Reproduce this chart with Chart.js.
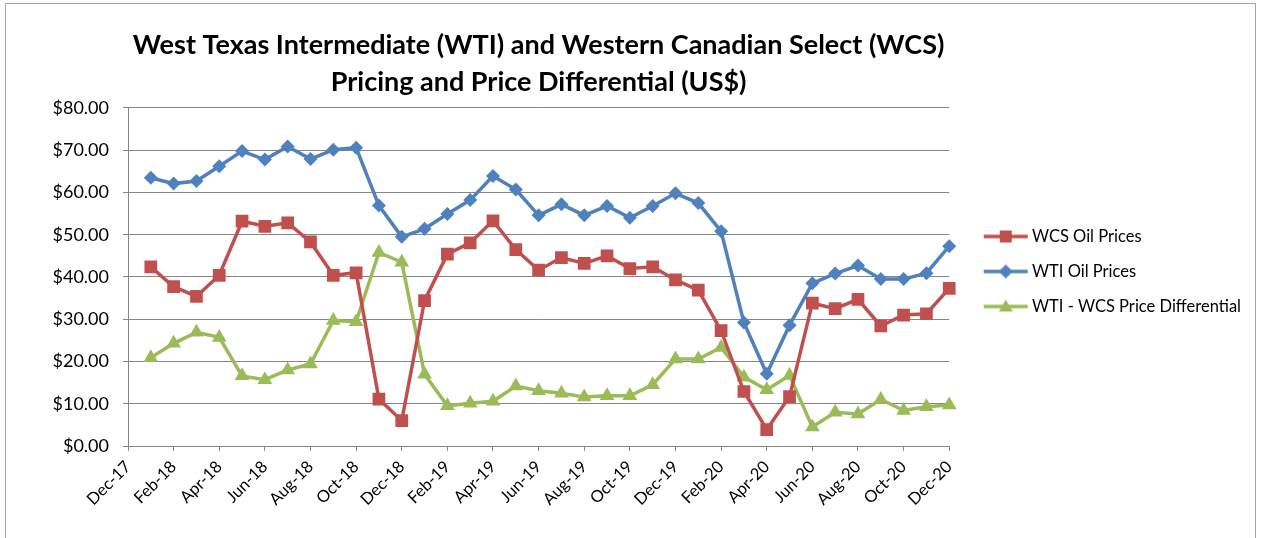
<!DOCTYPE html>
<html>
<head>
<meta charset="utf-8">
<script src="https://cdn.jsdelivr.net/npm/chart.js@4/dist/chart.umd.min.js"></script>
<style>
  html, body { margin: 0; padding: 0; background: #fff; }
  #wrap { position: relative; width: 1266px; height: 538px; overflow: hidden; }
  #frame { position: absolute; left: 5px; top: 3px; width: 1251px; height: 560px; border: 1px solid #a6a6a6; box-sizing: border-box; }
  #c { position: absolute; left: 0; top: 0; }
</style>
</head>
<body>
<div id="wrap">
  <div id="frame"></div>
  <canvas id="c" width="1266" height="538"></canvas>
</div>
<script>
// Axis categories (Dec-17 is the empty axis start)
const months = ['Dec-17',
  'Jan-18','Feb-18','Mar-18','Apr-18','May-18','Jun-18','Jul-18','Aug-18','Sep-18','Oct-18','Nov-18','Dec-18',
  'Jan-19','Feb-19','Mar-19','Apr-19','May-19','Jun-19','Jul-19','Aug-19','Sep-19','Oct-19','Nov-19','Dec-19',
  'Jan-20','Feb-20','Mar-20','Apr-20','May-20','Jun-20','Jul-20','Aug-20','Sep-20','Oct-20','Nov-20','Dec-20'];

// Series values, Jan-18 .. Dec-20
const wcsPrices = [42.4, 37.7, 35.4, 40.4, 53.2, 52.0, 52.8, 48.3, 40.4, 41.0, 11.1, 6.0,
  34.4, 45.4, 48.1, 53.3, 46.5, 41.6, 44.6, 43.2, 45.0, 42.0, 42.4, 39.3,
  36.9, 27.3, 12.9, 3.9, 11.7, 33.8, 32.5, 34.7, 28.4, 31.0, 31.3, 37.3];
const wtiPrices = [63.5, 62.1, 62.7, 66.2, 69.8, 67.8, 70.9, 67.9, 70.1, 70.6, 56.9, 49.5,
  51.4, 54.9, 58.2, 63.9, 60.7, 54.6, 57.2, 54.6, 56.8, 54.0, 56.8, 59.8,
  57.5, 50.8, 29.2, 17.1, 28.6, 38.5, 40.8, 42.7, 39.5, 39.5, 40.9, 47.3];
const priceDiff = [20.9, 24.3, 26.9, 25.7, 16.6, 15.7, 18.0, 19.4, 29.7, 29.4, 45.8, 43.5,
  17.0, 9.5, 10.1, 10.6, 14.2, 13.1, 12.5, 11.6, 11.9, 11.9, 14.5, 20.6,
  20.6, 23.3, 16.3, 13.3, 16.7, 4.5, 8.0, 7.6, 11.0, 8.4, 9.3, 9.7];

const seriesNames = ['WCS Oil Prices', 'WTI Oil Prices', 'WTI - WCS Price Differential'];
const yTicks = [0, 10, 20, 30, 40, 50, 60, 70, 80];

const RED = '#C0504D', BLUE = '#4F81BD', GREEN = '#9BBB59';

function legendImage(color, style) {
  const cv = document.createElement('canvas');
  cv.width = 48; cv.height = 18;
  const g = cv.getContext('2d');
  g.strokeStyle = color; g.lineWidth = 3.5; g.lineCap = 'butt';
  g.beginPath(); g.moveTo(2, 9); g.lineTo(46, 9); g.stroke();
  g.fillStyle = color;
  g.beginPath();
  if (style === 'rect') { g.rect(24 - 6, 9 - 6, 12, 12); }
  else if (style === 'rectRot') { g.moveTo(24, 2); g.lineTo(31, 9); g.lineTo(24, 16); g.lineTo(17, 9); g.closePath(); }
  else { g.moveTo(24, 2); g.lineTo(31, 14); g.lineTo(17, 14); g.closePath(); }
  g.fill();
  return cv;
}

const pad = arr => [null].concat(arr);
const styles = ['rect', 'rectRot', 'triangle'];
const colors = [RED, BLUE, GREEN];
const values = [wcsPrices, wtiPrices, priceDiff];
const radii = [9, 7, 8.5];

const datasets = seriesNames.map((name, i) => ({
  label: name,
  data: pad(values[i]),
  borderColor: colors[i],
  backgroundColor: colors[i],
  borderWidth: 3.5,
  pointStyle: styles[i],
  pointRadius: radii[i],
  pointHoverRadius: radii[i],
  pointBorderWidth: 0,
  pointBackgroundColor: colors[i],
  tension: 0,
  spanGaps: false
}));

const legendImgs = seriesNames.map((n, i) => legendImage(colors[i], styles[i]));

new Chart(document.getElementById('c'), {
  type: 'line',
  data: { labels: months, datasets: datasets },
  options: {
    responsive: false,
    animation: false,
    devicePixelRatio: 1,
    layout: { padding: { left: 0, top: 5, right: 15, bottom: 0 } },
    plugins: {
      title: {
        display: true,
        fullSize: false,
        text: ['West Texas Intermediate (WTI) and Western Canadian Select (WCS)', 'Pricing and Price Differential (US$)'],
        color: '#000',
        font: { family: 'Lato', size: 27, weight: 'bold', lineHeight: 1.37 },
        padding: { top: 22, bottom: 7 }
      },
      legend: {
        position: 'right',
        fullSize: true,
        maxWidth: 340,
        labels: {
          usePointStyle: true,
          pointStyleWidth: 36,
          boxHeight: 15,
          padding: 18.5,
          color: '#000',
          font: { family: 'Lato', size: 16.5 },
          generateLabels: chart => chart.data.datasets.map((ds, i) => ({
            text: ds.label,
            fillStyle: ds.borderColor,
            strokeStyle: ds.borderColor,
            lineWidth: 0,
            pointStyle: legendImgs[i],
            datasetIndex: i,
            hidden: false
          }))
        }
      },
      tooltip: { enabled: false }
    },
    scales: {
      x: {
        type: 'category',
        offset: false,
        afterFit: s => { s.height = 92; },
        grid: { display: true, drawOnChartArea: false, drawTicks: true, tickLength: 5, color: '#868686', lineWidth: 1 },
        border: { display: true, color: '#868686', width: 1 },
        ticks: {
          autoSkip: false,
          maxRotation: 45,
          minRotation: 45,
          padding: 6,
          color: '#000',
          font: { family: 'Lato', size: 16.5 },
          callback: function (v, idx) { return idx % 2 === 0 ? months[idx] : null; }
        }
      },
      y: {
        min: yTicks[0],
        max: yTicks[yTicks.length - 1],
        afterFit: s => { s.width = 128; },
        afterBuildTicks: s => { s.ticks = yTicks.map(v => ({ value: v })); },
        grid: { color: '#868686', lineWidth: 1, tickLength: 5 },
        border: { display: true, color: '#868686', width: 1 },
        ticks: {
          padding: 14,
          color: '#000',
          font: { family: 'Lato', size: 18 },
          callback: v => '$' + Number(v).toFixed(2)
        }
      },
      gap: {
        type: 'linear',
        position: 'right',
        display: true,
        afterFit: s => { s.width = 20; },
        grid: { display: false },
        border: { display: false },
        ticks: { display: false }
      }
    }
  }
});
</script>
